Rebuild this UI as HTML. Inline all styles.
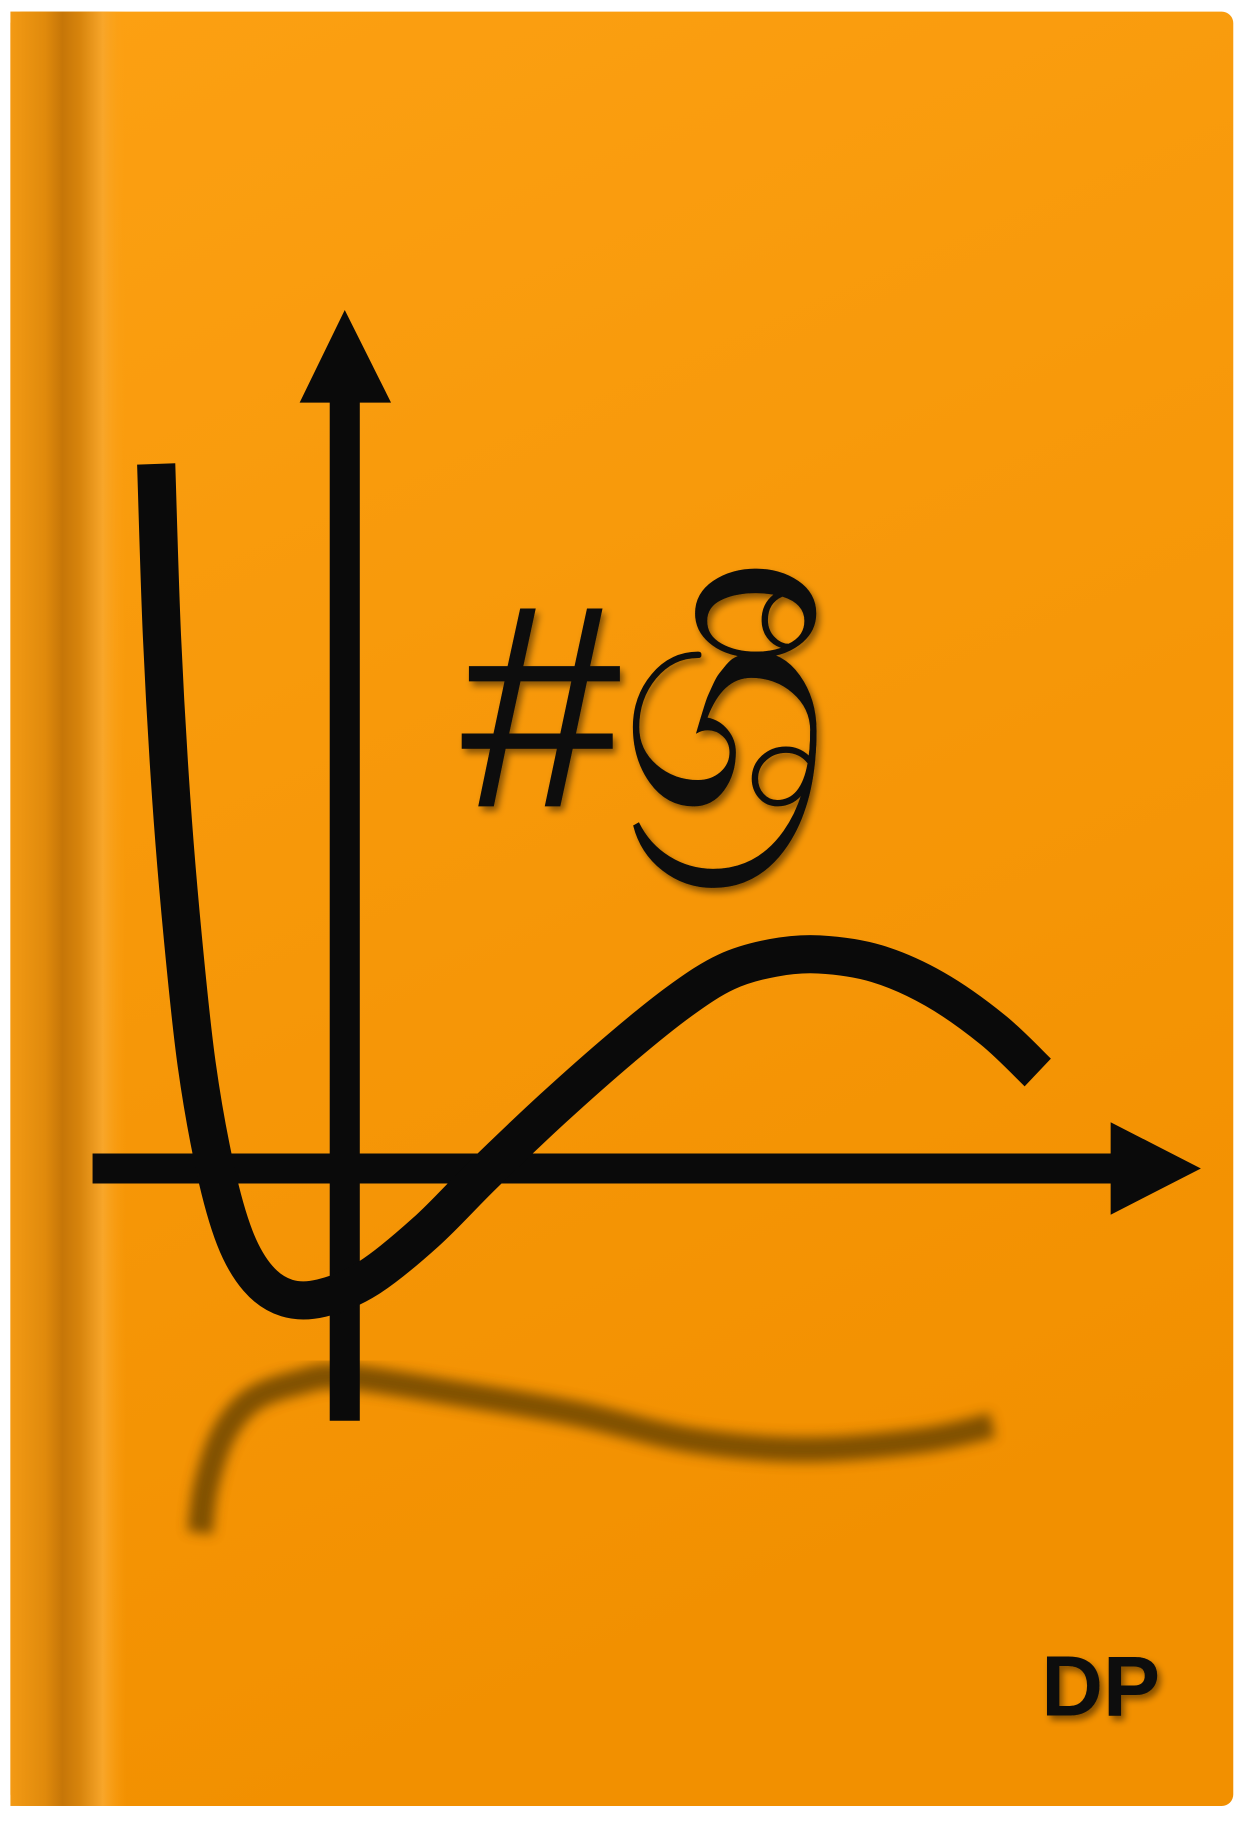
<!DOCTYPE html>
<html><head><meta charset="utf-8"><style>
html,body{margin:0;padding:0;background:#fff;}
svg{display:block;}
</style></head><body>
<svg width="1246" height="1821" viewBox="0 0 1077 1574" preserveAspectRatio="none" xmlns="http://www.w3.org/2000/svg">
<defs>
<linearGradient id="bg" x1="0" y1="0" x2="0.3" y2="1">
<stop offset="0" stop-color="#fca012"/><stop offset="1" stop-color="#f29000"/>
</linearGradient>
<linearGradient id="spine" x1="0" y1="0" x2="1" y2="0">
<stop offset="0" stop-color="#f39a14"/>
<stop offset="0.3" stop-color="#e08a0c"/>
<stop offset="0.45" stop-color="#c67608"/>
<stop offset="0.6" stop-color="#d7840c"/>
<stop offset="0.8" stop-color="#f8a62a"/>
<stop offset="1" stop-color="#fca012" stop-opacity="0"/>
</linearGradient>
<filter id="blur"><feGaussianBlur stdDeviation="5"/></filter>
<filter id="ts"><feDropShadow dx="3" dy="4" stdDeviation="3" flood-color="#000" flood-opacity="0.45"/></filter>
</defs>
<rect x="9" y="10" width="1057" height="1551" rx="10" fill="url(#bg)"/>
<rect x="9" y="10" width="100" height="1551" fill="url(#spine)"/>
<g id="chart"></g>
<text x="398" y="697" font-family="'Liberation Sans','Noto Sans CJK SC',sans-serif" font-size="250" fill="#0a0a0a" filter="url(#ts)">#ශ්‍රී</text>
<text x="900" y="1483" font-family="'Liberation Sans',sans-serif" font-size="74" font-weight="bold" fill="#0a0a0a" filter="url(#ts)">DP</text>
</svg>
<script>
const curveX = [-1.63,-1.58,-1.5,-1.4,-1.28,-1.12,-0.95,-0.75,-0.5,-0.2,0.2,0.7,1.2,1.8,2.4,2.9,3.3,3.7,4.1,4.6,5.1,5.6,5.99];
const curveY = [6.09,4.6,3.2,2.0,0.9,0.0,-0.6,-0.95,-1.12,-1.12,-0.95,-0.55,-0.05,0.52,1.05,1.45,1.7,1.82,1.85,1.77,1.55,1.2,0.83];
const shadowX = [-1.25,-1.2,-1.05,-0.8,-0.4,0,1,2,3,4,5,5.6];
const shadowY = [-3.15,-2.75,-2.3,-2.0,-1.85,-1.8,-1.95,-2.12,-2.35,-2.43,-2.35,-2.22];
const ox=298, oy=1010, unit=100;
const sx=v=>ox+v*unit, sy=v=>oy-v*unit;
const g=document.getElementById('chart');
const NS='http://www.w3.org/2000/svg';
function smooth(xs,ys){
  let p=xs.map((x,i)=>[sx(x),sy(ys[i])]);
  let d='M'+p[0][0]+','+p[0][1];
  for(let i=0;i<p.length-1;i++){
    const p0=p[i-1]||p[i],p1=p[i],p2=p[i+1],p3=p[i+2]||p2;
    const c1=[p1[0]+(p2[0]-p0[0])/6,p1[1]+(p2[1]-p0[1])/6];
    const c2=[p2[0]-(p3[0]-p1[0])/6,p2[1]-(p3[1]-p1[1])/6];
    d+=` C${c1[0]},${c1[1]} ${c2[0]},${c2[1]} ${p2[0]},${p2[1]}`;
  }
  return d;
}
const sh=document.createElementNS(NS,'path');


sh.setAttribute('d',smooth(shadowX,shadowY));
sh.setAttribute('fill','none');sh.setAttribute('stroke','#5a3a05');sh.setAttribute('stroke-width','22');
sh.setAttribute('opacity','0.75');sh.setAttribute('filter','url(#blur)');
g.appendChild(sh);
function line(x1,y1,x2,y2,name){
  const l=document.createElementNS(NS,'line');
  
  
  l.setAttribute('x1',x1);l.setAttribute('y1',y1);l.setAttribute('x2',x2);l.setAttribute('y2',y2);
  l.setAttribute('stroke','#0a0a0a');l.setAttribute('stroke-width','26');
  g.appendChild(l);
}
line(80,oy,962,oy,'x-axis');
line(ox,1228,ox,345,'y-axis');
const xa=document.createElementNS(NS,'polygon');


xa.setAttribute('points','960,970 1038,1010 960,1050');xa.setAttribute('fill','#0a0a0a');g.appendChild(xa);
const ya=document.createElementNS(NS,'polygon');


ya.setAttribute('points','259,348 298,268 338,348');ya.setAttribute('fill','#0a0a0a');g.appendChild(ya);
const c=document.createElementNS(NS,'path');


c.setAttribute('d',smooth(curveX,curveY));
c.setAttribute('fill','none');c.setAttribute('stroke','#0a0a0a');c.setAttribute('stroke-width','33');
g.appendChild(c);
</script>
</body></html>
